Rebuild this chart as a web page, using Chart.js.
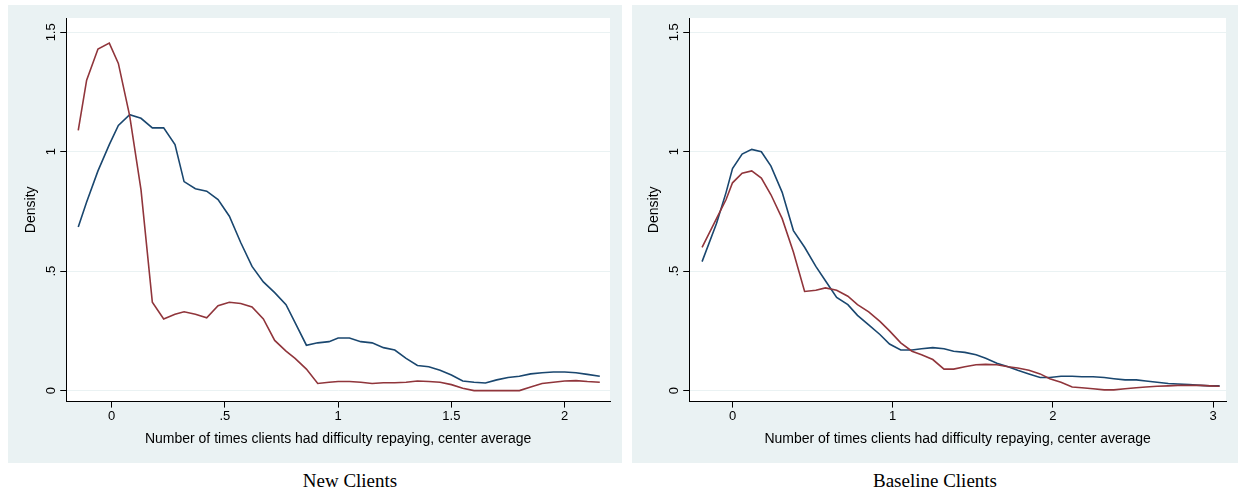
<!DOCTYPE html>
<html><head><meta charset="utf-8">
<script src="https://cdn.jsdelivr.net/npm/chart.js@4"></script>
<style>
body{margin:0;background:#fff;width:1238px;height:495px;position:relative;font-family:"Liberation Serif",serif}
.p{position:absolute;background:#eaf2f3}
.t{position:absolute;font-size:19px;text-align:center;font-family:"Liberation Serif",serif}
</style></head><body>
<div class="p" style="left:8px;top:5px;width:614px;height:458px"><canvas id="c1"></canvas></div>
<div class="p" style="left:632px;top:5px;width:606px;height:458px"><canvas id="c2"></canvas></div>
<div class="t" style="left:8px;width:684px;top:470px">New Clients</div>
<div class="t" style="left:632px;width:606px;top:470px">Baseline Clients</div>
<script>
/* curvas de densidad */
var xNuevos = [-0.147,-0.11,-0.06,-0.01,0.03,0.08,0.13,0.18,0.23,0.28,0.32,0.37,0.42,0.47,0.52,0.57,0.62,0.67,0.72,0.77,0.81,0.86,0.91,0.96,1.00,1.05,1.10,1.15,1.20,1.25,1.30,1.35,1.40,1.45,1.50,1.55,1.60,1.65,1.70,1.75,1.80,1.85,1.90,1.95,2.00,2.05,2.10,2.155];
var azulNuevos = [0.685,0.79,0.92,1.03,1.11,1.155,1.14,1.10,1.10,1.03,0.875,0.845,0.835,0.80,0.73,0.62,0.52,0.455,0.41,0.36,0.285,0.19,0.20,0.205,0.22,0.22,0.205,0.20,0.18,0.17,0.135,0.105,0.10,0.085,0.065,0.04,0.035,0.032,0.045,0.055,0.06,0.07,0.075,0.078,0.078,0.075,0.068,0.06];
var rojoNuevos = [1.09,1.30,1.43,1.455,1.37,1.15,0.84,0.37,0.30,0.32,0.33,0.32,0.305,0.355,0.37,0.365,0.35,0.30,0.21,0.165,0.135,0.09,0.03,0.035,0.038,0.038,0.035,0.03,0.033,0.033,0.035,0.04,0.038,0.035,0.025,0.01,0.0,0.0,0.0,0.0,0.0,0.015,0.03,0.035,0.04,0.042,0.038,0.035];
var xBase = [-0.19,-0.1,-0.04,0.0,0.06,0.12,0.18,0.24,0.31,0.38,0.45,0.52,0.58,0.65,0.72,0.78,0.85,0.92,0.98,1.05,1.12,1.18,1.25,1.32,1.38,1.45,1.52,1.58,1.65,1.72,1.78,1.85,1.92,1.98,2.05,2.12,2.18,2.25,2.32,2.38,2.45,2.52,2.58,2.65,2.72,2.78,2.85,2.92,2.98,3.04];
var azulBase = [0.54,0.70,0.83,0.93,0.99,1.01,1.0,0.94,0.83,0.67,0.60,0.52,0.46,0.39,0.36,0.315,0.275,0.235,0.195,0.17,0.17,0.175,0.18,0.175,0.165,0.16,0.15,0.135,0.115,0.10,0.085,0.07,0.055,0.055,0.06,0.06,0.058,0.058,0.055,0.05,0.045,0.045,0.04,0.035,0.03,0.028,0.025,0.022,0.02,0.02];
var rojoBase = [0.60,0.72,0.80,0.87,0.91,0.92,0.89,0.82,0.72,0.58,0.415,0.42,0.43,0.42,0.395,0.36,0.33,0.29,0.25,0.20,0.165,0.15,0.13,0.09,0.09,0.10,0.108,0.11,0.108,0.10,0.095,0.085,0.07,0.05,0.035,0.015,0.012,0.008,0.003,0.003,0.008,0.012,0.015,0.018,0.02,0.022,0.022,0.022,0.02,0.018];
var yTicks = [0, 0.5, 1, 1.5];
var yEtiquetas = ['0', '.5', '1', '1.5'];

function puntos(xs, ys){ return xs.map(function(x,i){ return {x:x, y:ys[i]}; }); }

// fondo blanco del area y etiquetas del eje y giradas
var fondo = {
  id:'fondo',
  beforeDraw: function(ch){
    var a = ch.chartArea, c = ch.ctx;
    c.save(); c.fillStyle = '#fff'; c.fillRect(a.left, a.top, a.right-a.left, a.bottom-a.top); c.restore();
  },
  afterDraw: function(ch){
    var c = ch.ctx, s = ch.scales.y;
    c.save(); c.fillStyle = '#000'; c.font = '13px "Liberation Sans"'; c.textAlign = 'center'; c.textBaseline = 'bottom';
    yTicks.forEach(function(v,i){
      var py = s.getPixelForValue(v);
      c.save(); c.translate(s.right-8, py); c.rotate(-Math.PI/2); c.fillText(yEtiquetas[i], 0, 0); c.restore();
    });
    c.restore();
  }
};

function hacer(id, xs, azul, rojo, xmin, xmax, xt, xlab, izq, der){
  new Chart(document.getElementById(id), {
    type:'scatter',
    data:{datasets:[
      {data:puntos(xs, rojo), showLine:true, borderColor:'#90353b', borderWidth:1.6, pointRadius:0, tension:0},
      {data:puntos(xs, azul), showLine:true, borderColor:'#1a476f', borderWidth:1.6, pointRadius:0, tension:0}
    ]},
    options:{
      responsive:true, maintainAspectRatio:false, animation:false,
      layout:{padding:{left:izq, top:13, right:der, bottom:11}},
      plugins:{legend:{display:false}, tooltip:{enabled:false}},
      scales:{
        x:{type:'linear', min:xmin, max:xmax, afterBuildTicks:function(s){ s.ticks = xt.map(function(v){return {value:v};}); },
          grid:{drawOnChartArea:false, color:'#000', tickLength:6, tickColor:'#000'}, border:{color:'#000'},
          ticks:{color:'#000', font:{size:13, family:'Liberation Sans'}, padding:1, callback:function(v){ return xlab[xt.indexOf(v)]; }},
          title:{display:true, text:'Number of times clients had difficulty repaying, center average', color:'#000', font:{size:14, family:'Liberation Sans'}, padding:{top:6}}},
        y:{min:-0.046, max:1.56, afterBuildTicks:function(s){ s.ticks = yTicks.map(function(v){return {value:v};}); },
          grid:{color:'#eaf2f3', tickLength:6, tickColor:'#000', drawOnChartArea:true}, border:{color:'#000'},
          ticks:{callback:function(){ return '    '; }, font:{size:13}},
          title:{display:true, text:'Density', color:'#000', font:{size:14, family:'Liberation Sans'}, padding:{bottom:0}}}
      }
    },
    plugins:[fondo]
  });
}
hacer('c1', xNuevos, azulNuevos, rojoNuevos, -0.2, 2.2, [0,0.5,1,1.5,2], ['0','.5','1','1.5','2'], 11, 12);
hacer('c2', xBase, azulBase, rojoBase, -0.27, 3.08, [0,1,2,3], ['0','1','2','3'], 10, 12);
</script>
</body></html>
